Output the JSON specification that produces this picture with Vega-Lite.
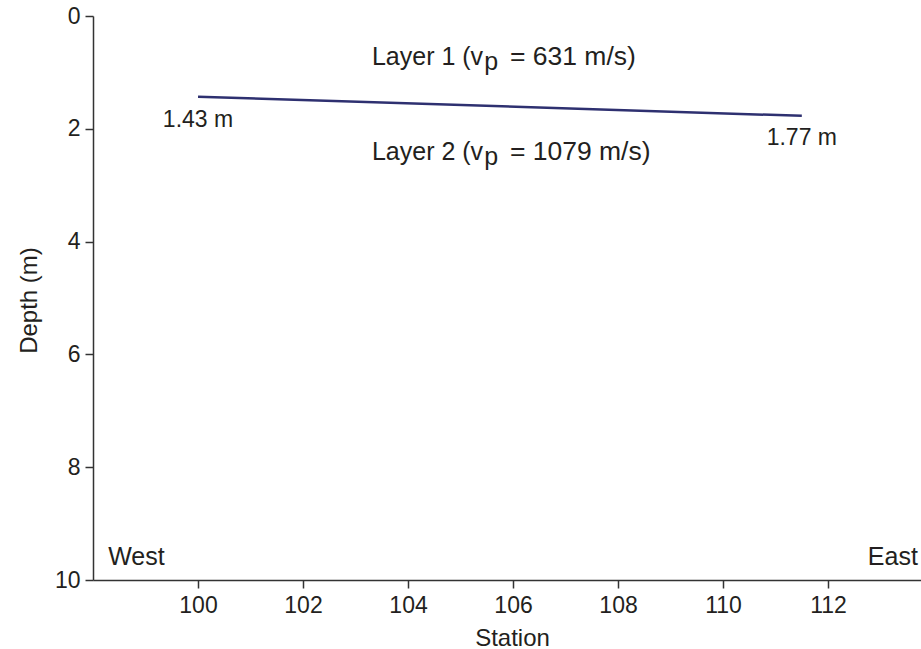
{
  "$schema": "https://vega.github.io/schema/vega-lite/v6.json",
  "autosize": "none",
  "width": 828,
  "height": 564,
  "padding": {"left": 93, "top": 16, "right": 0, "bottom": 69},
  "background": "white",
  "config": {
    "view": {"stroke": null},
    "font": "Liberation Sans",
    "axis": {
      "labelFont": "Liberation Sans",
      "titleFont": "Liberation Sans",
      "labelFontSize": 23,
      "titleFontSize": 24,
      "titleFontWeight": "normal",
      "labelColor": "#231f20",
      "titleColor": "#231f20",
      "domainColor": "#333333",
      "tickColor": "#333333",
      "domainWidth": 1.5,
      "tickWidth": 1.5,
      "tickSize": 8,
      "grid": false
    }
  },
  "datasets": {
    "interface": [
      {"station": 100, "depth": 1.43},
      {"station": 111.5, "depth": 1.77}
    ],
    "labelsCenter": [
      {"station": 100, "depth": 1.97, "text": "1.43 m"},
      {"station": 111.5, "depth": 2.29, "text": "1.77 m"}
    ],
    "labelsRight": [
      {"station": 105.43, "depth": 0.87, "text": "Layer 1 (v"},
      {"station": 105.43, "depth": 2.56, "text": "Layer 2 (v"}
    ],
    "labelsSub": [
      {"station": 105.45, "depth": 0.96, "text": "p"},
      {"station": 105.45, "depth": 2.65, "text": "p"}
    ],
    "labelsLeft": [
      {"station": 105.94, "depth": 0.87, "text": "= 631 m/s)"},
      {"station": 105.94, "depth": 2.56, "text": "= 1079 m/s)"}
    ],
    "west": [{"station": 98.29, "depth": 9.74, "text": "West"}],
    "east": [{"station": 113.71, "depth": 9.74, "text": "East"}]
  },
  "layer": [
    {
      "data": {"name": "interface"},
      "mark": {"type": "line", "color": "#2e3070", "strokeWidth": 2.5, "clip": true},
      "encoding": {
        "x": {
          "field": "station", "type": "quantitative", "title": "Station",
          "scale": {"domain": [98, 113.77], "nice": false, "zero": false},
          "axis": {"title": "Station", "orient": "bottom", "format": "d", "values": [100, 102, 104, 106, 108, 110, 112], "labelPadding": 6, "titleX": 419, "titleY": 65, "titleBaseline": "alphabetic", "titleAnchor": "start", "titleAlign": "center"}
        },
        "y": {
          "field": "depth", "type": "quantitative", "title": "Depth (m)",
          "scale": {"domain": [0, 10], "reverse": true, "nice": false, "zero": false},
          "axis": {"title": "Depth (m)", "format": "d", "values": [0, 2, 4, 6, 8, 10], "labelPadding": 5, "titleX": -57, "titleY": 284, "titleAlign": "center", "titleAnchor": "start", "titleBaseline": "alphabetic"}
        }
      }
    },
    {
      "mark": {"type": "rule", "color": "#333333", "strokeWidth": 1.5},
      "encoding": {
        "y": {"datum": 0, "type": "quantitative", "title": "Depth (m)"}
      }
    },
    {
      "data": {"name": "labelsCenter"},
      "mark": {"type": "text", "align": "center", "baseline": "alphabetic", "fontSize": 23, "color": "#231f20"},
      "encoding": {
        "x": {"field": "station", "type": "quantitative", "title": "Station"},
        "y": {"field": "depth", "type": "quantitative", "title": "Depth (m)"},
        "text": {"field": "text"}
      }
    },
    {
      "data": {"name": "labelsRight"},
      "mark": {"type": "text", "align": "right", "baseline": "alphabetic", "fontSize": 25, "color": "#231f20"},
      "encoding": {
        "x": {"field": "station", "type": "quantitative", "title": "Station"},
        "y": {"field": "depth", "type": "quantitative", "title": "Depth (m)"},
        "text": {"field": "text"}
      }
    },
    {
      "data": {"name": "labelsSub"},
      "mark": {"type": "text", "align": "left", "baseline": "alphabetic", "fontSize": 25, "color": "#231f20"},
      "encoding": {
        "x": {"field": "station", "type": "quantitative", "title": "Station"},
        "y": {"field": "depth", "type": "quantitative", "title": "Depth (m)"},
        "text": {"field": "text"}
      }
    },
    {
      "data": {"name": "labelsLeft"},
      "mark": {"type": "text", "align": "left", "baseline": "alphabetic", "fontSize": 26.5, "color": "#231f20"},
      "encoding": {
        "x": {"field": "station", "type": "quantitative", "title": "Station"},
        "y": {"field": "depth", "type": "quantitative", "title": "Depth (m)"},
        "text": {"field": "text"}
      }
    },
    {
      "data": {"name": "west"},
      "mark": {"type": "text", "align": "left", "baseline": "alphabetic", "fontSize": 25, "color": "#231f20"},
      "encoding": {
        "x": {"field": "station", "type": "quantitative", "title": "Station"},
        "y": {"field": "depth", "type": "quantitative", "title": "Depth (m)"},
        "text": {"field": "text"}
      }
    },
    {
      "data": {"name": "east"},
      "mark": {"type": "text", "align": "right", "baseline": "alphabetic", "fontSize": 25, "color": "#231f20"},
      "encoding": {
        "x": {"field": "station", "type": "quantitative", "title": "Station"},
        "y": {"field": "depth", "type": "quantitative", "title": "Depth (m)"},
        "text": {"field": "text"}
      }
    }
  ]
}
